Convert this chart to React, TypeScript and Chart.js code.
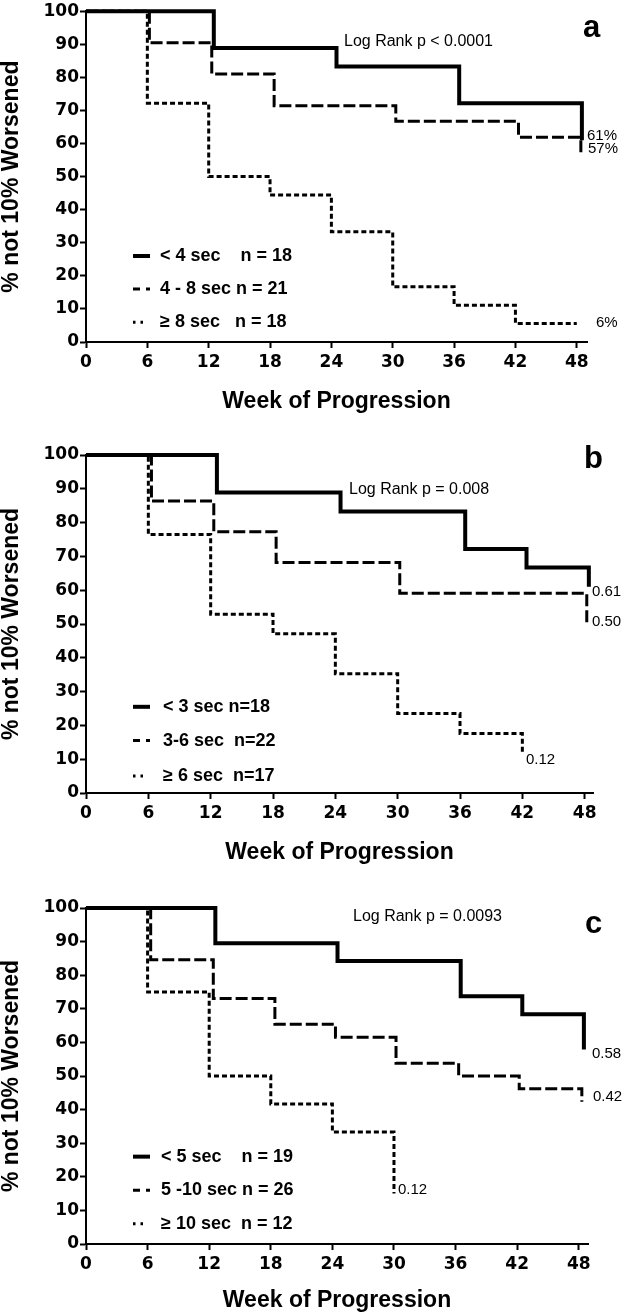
import React, { useEffect, useRef } from 'react';
import { Chart, registerables } from 'chart.js';

Chart.register(...registerables);

// ---------- data ----------
const xTicks = [0, 6, 12, 18, 24, 30, 36, 42, 48];
const yTicks = [0, 10, 20, 30, 40, 50, 60, 70, 80, 90, 100];

// Panel a
const aSolidWeeks = [0, 12.5, 24.5, 36.5, 48.5];
const aSolidValues = [100, 88.9, 83.3, 72.2, 61];
const aDashedWeeks = [0, 6.2, 12.3, 18.4, 30.3, 42.3, 48.4];
const aDashedValues = [100, 90.5, 81.0, 71.4, 66.7, 61.9, 57];
const aDottedWeeks = [0, 6, 12, 18, 24, 30, 36, 42, 48];
const aDottedValues = [100, 72.2, 50, 44.4, 33.3, 16.7, 11.1, 5.6, 5.6];
const aLegend = ['< 4 sec    n = 18', '4 - 8 sec n = 21', '\u2265 8 sec   n = 18'];
const aLogRank = 'Log Rank p < 0.0001';
const aEndLabels = ['61%', '57%', '6%'];

// Panel b
const bSolidWeeks = [0, 12.6, 24.5, 36.5, 42.4, 48.4];
const bSolidValues = [100, 88.9, 83.3, 72.2, 66.7, 61];
const bDashedWeeks = [0, 6.3, 12.3, 18.3, 30.2, 48.2];
const bDashedValues = [100, 86.4, 77.3, 68.2, 59.1, 50];
const bDottedWeeks = [0, 6, 12, 18, 24, 30, 36, 42];
const bDottedValues = [100, 76.5, 52.9, 47.1, 35.3, 23.5, 17.6, 11.8];
const bLegend = ['< 3 sec n=18', '3-6 sec  n=22', '\u2265 6 sec  n=17'];
const bLogRank = 'Log Rank p = 0.008';
const bEndLabels = ['0.61', '0.50', '0.12'];

// Panel c
const cSolidWeeks = [0, 12.6, 24.5, 36.5, 42.5, 48.5];
const cSolidValues = [100, 89.5, 84.2, 73.7, 68.4, 57.9];
const cDashedWeeks = [0, 6.3, 12.4, 18.4, 24.3, 30.2, 36.3, 42.2, 48.3];
const cDashedValues = [100, 84.6, 73.1, 65.4, 61.5, 53.8, 50, 46.2, 42.3];
const cDottedWeeks = [0, 6, 12, 18, 24, 30];
const cDottedValues = [100, 75, 50, 41.7, 33.3, 15];
const cLegend = ['< 5 sec    n = 19', '5 -10 sec n = 26', '\u2265 10 sec  n = 12'];
const cLogRank = 'Log Rank p = 0.0093';
const cEndLabels = ['0.58', '0.42', '0.12'];

const yTitle = '% not 10% Worsened';
const xTitle = 'Week of Progression';

// ---------- styles ----------
const SANS = '"Liberation Sans", Arial, sans-serif';
const TICKFONT = '"DejaVu Sans", sans-serif';

const STYLES: Record<string, { width: number; dash: number[]; sample: number[]; sampleLen: number }> = {
  solid: { width: 4, dash: [], sample: [], sampleLen: 17 },
  dashed: { width: 3, dash: [12, 4], sample: [7, 6], sampleLen: 17 },
  dotted: { width: 3, dash: [5, 3], sample: [2.5, 5], sampleLen: 10 },
};
const ORDER = ['solid', 'dashed', 'dotted'];

type PanelCfg = {
  top: number;
  height: number;
  padTop: number;
  padBottom: number;
  padRight: number;
  xMax: number;
  xAxisH: number;
  series: { weeks: number[]; values: number[] }[];
  legend: string[];
  legendRows: number[];
  legendTextX: number;
  letter: string;
  letterPos: [number, number];
  logRank: string;
  logRankPos: [number, number];
  endLabels: string[];
  endPos: [number, number][];
};

const panels: PanelCfg[] = [
  {
    top: 0, height: 430, padTop: 9, padBottom: 17, padRight: 37, xMax: 49, xAxisH: 71,
    series: [
      { weeks: aSolidWeeks, values: aSolidValues },
      { weeks: aDashedWeeks, values: aDashedValues },
      { weeks: aDottedWeeks, values: aDottedValues },
    ],
    legend: aLegend, legendRows: [26, 16, 6], legendTextX: 74,
    letter: 'a', letterPos: [583, 37],
    logRank: aLogRank, logRankPos: [344, 42],
    endLabels: aEndLabels, endPos: [[587, 136], [588, 149], [596, 323]],
  },
  {
    top: 430, height: 440, padTop: 25, padBottom: 6, padRight: 31, xMax: 48.8, xAxisH: 71,
    series: [
      { weeks: bSolidWeeks, values: bSolidValues },
      { weeks: bDashedWeeks, values: bDashedValues },
      { weeks: bDottedWeeks, values: bDottedValues },
    ],
    legend: bLegend, legendRows: [25.5, 15.5, 5], legendTextX: 77,
    letter: 'b', letterPos: [584, 468],
    logRank: bLogRank, logRankPos: [349, 490],
    endLabels: bEndLabels, endPos: [[592, 592], [592, 622], [526, 760]],
  },
  {
    top: 870, height: 445, padTop: 38, padBottom: 3, padRight: 36, xMax: 48.9, xAxisH: 68,
    series: [
      { weeks: cSolidWeeks, values: cSolidValues },
      { weeks: cDashedWeeks, values: cDashedValues },
      { weeks: cDottedWeeks, values: cDottedValues },
    ],
    legend: cLegend, legendRows: [26, 16, 6], legendTextX: 75,
    letter: 'c', letterPos: [585, 933],
    logRank: cLogRank, logRankPos: [353, 917],
    endLabels: cEndLabels, endPos: [[592, 1054], [593, 1097], [398, 1190]],
  },
];

const overlayPlugin = {
  id: 'overlay',
  afterDraw(chart: any, _args: any, opts: any) {
    const p: PanelCfg = opts.panel;
    if (!p) return;
    const { ctx, chartArea, scales } = chart;
    ctx.save();
    ctx.fillStyle = '#000';
    ctx.strokeStyle = '#000';
    ctx.textAlign = 'left';

    // panel letter
    ctx.textBaseline = 'alphabetic';
    ctx.font = `bold 31px ${SANS}`;
    ctx.fillText(p.letter, p.letterPos[0], p.letterPos[1] - p.top);

    // log rank
    ctx.textBaseline = 'middle';
    ctx.font = `16px ${SANS}`;
    ctx.fillText(p.logRank, p.logRankPos[0], p.logRankPos[1] - p.top);

    // end labels
    ctx.font = `15px ${SANS}`;
    p.endLabels.forEach((t, i) => {
      ctx.fillText(t, p.endPos[i][0], p.endPos[i][1] - p.top);
    });

    // legend
    ctx.font = `bold 18px ${SANS}`;
    p.legend.forEach((t, i) => {
      const y = scales.y.getPixelForValue(p.legendRows[i]);
      const st = STYLES[ORDER[i]];
      ctx.beginPath();
      ctx.lineWidth = st.width;
      ctx.lineCap = 'butt';
      ctx.setLineDash(st.sample);
      ctx.moveTo(chartArea.left + 47, y);
      ctx.lineTo(chartArea.left + 47 + st.sampleLen, y);
      ctx.stroke();
      ctx.setLineDash([]);
      ctx.fillText(t, chartArea.left + p.legendTextX, y);
    });
    ctx.restore();
  },
};

function Panel({ cfg }: { cfg: PanelCfg }) {
  const ref = useRef<HTMLCanvasElement>(null);
  useEffect(() => {
    const canvas = ref.current;
    if (!canvas) return;
    const chart = new Chart(canvas, {
      type: 'line',
      data: {
        datasets: cfg.series.map((s, i) => {
          const st = STYLES[ORDER[i]];
          return {
            data: s.weeks.map((w, j) => ({ x: w, y: s.values[j] })),
            stepped: 'before',
            borderColor: '#000',
            backgroundColor: '#000',
            borderWidth: st.width,
            borderDash: st.dash,
            borderCapStyle: 'butt',
            borderJoinStyle: 'miter',
            pointRadius: 0,
            pointHoverRadius: 0,
            fill: false,
            clip: false,
          } as any;
        }),
      },
      options: {
        animation: false,
        responsive: false,
        devicePixelRatio: 1,
        events: [],
        layout: { padding: { top: cfg.padTop, right: cfg.padRight, bottom: cfg.padBottom, left: 0 } },
        plugins: {
          legend: { display: false },
          tooltip: { enabled: false },
          overlay: { panel: cfg },
        } as any,
        scales: {
          x: {
            type: 'linear',
            min: 0,
            max: cfg.xMax,
            afterBuildTicks: (s: any) => {
              s.ticks = xTicks.map((v) => ({ value: v }));
            },
            afterFit: (s: any) => {
              s.height = cfg.xAxisH;
            },
            ticks: {
              color: '#000',
              font: { family: TICKFONT, size: 17, weight: 'bold' },
              padding: 4,
              maxRotation: 0,
              autoSkip: false,
            },
            grid: {
              display: true,
              drawOnChartArea: false,
              drawTicks: true,
              tickLength: 6,
              tickWidth: 2,
              tickColor: '#000',
            },
            border: { display: true, color: '#000', width: 2 },
            title: {
              display: true,
              text: xTitle,
              color: '#000',
              font: { family: SANS, size: 23, weight: 'bold', lineHeight: 1 },
              padding: { top: 0, bottom: 0 },
            },
          },
          y: {
            type: 'linear',
            min: 0,
            max: 100,
            afterBuildTicks: (s: any) => {
              s.ticks = yTicks.map((v) => ({ value: v }));
            },
            afterFit: (s: any) => {
              s.width = 86;
            },
            ticks: {
              color: '#000',
              font: { family: TICKFONT, size: 17, weight: 'bold' },
              padding: 1,
              autoSkip: false,
            },
            grid: {
              display: true,
              drawOnChartArea: false,
              drawTicks: true,
              tickLength: 6,
              tickWidth: 2,
              tickColor: '#000',
            },
            border: { display: true, color: '#000', width: 2 },
            title: {
              display: true,
              text: yTitle,
              color: '#000',
              font: { family: SANS, size: 23, weight: 'bold', lineHeight: 1 },
              padding: { top: 0, bottom: 0 },
            },
          },
        },
      },
      plugins: [overlayPlugin],
    });
    return () => chart.destroy();
  }, [cfg]);
  return (
    <canvas
      ref={ref}
      width={624}
      height={cfg.height}
      style={{ position: 'absolute', left: 0, top: cfg.top, display: 'block' }}
    />
  );
}

export default function App() {
  return (
    <div style={{ position: 'absolute', left: 0, top: 0, width: 624, height: 1315, background: '#fff' }}>
      {panels.map((p, i) => (
        <Panel key={i} cfg={p} />
      ))}
    </div>
  );
}
